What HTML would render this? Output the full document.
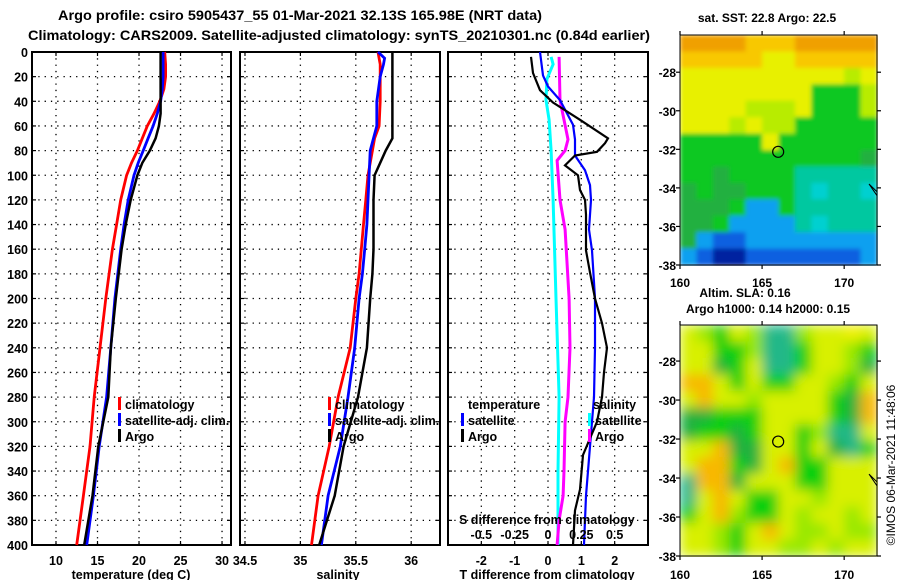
<!DOCTYPE html>
<html><head><meta charset="utf-8"><style>
html,body{margin:0;padding:0;background:#fff;}
svg{display:block;font-family:"Liberation Sans",sans-serif;font-weight:bold;}
</style></head><body>
<svg id="fig" width="900" height="580" viewBox="0 0 900 580" xmlns="http://www.w3.org/2000/svg">
<defs>
<filter id="blurS" x="0" y="0" width="1" height="1"><feGaussianBlur stdDeviation="2" edgeMode="duplicate"/></filter>
<filter id="blurL" x="0" y="0" width="1" height="1"><feGaussianBlur stdDeviation="6" edgeMode="duplicate"/></filter>
</defs>
<text x="300" y="20" font-size="14" text-anchor="middle" textLength="484" lengthAdjust="spacingAndGlyphs">Argo profile: csiro 5905437_55 01-Mar-2021 32.13S 165.98E (NRT data)</text>
<text x="339" y="40" font-size="14" text-anchor="middle" textLength="622" lengthAdjust="spacingAndGlyphs">Climatology: CARS2009. Satellite-adjusted climatology: synTS_20210301.nc (0.84d earlier)</text>
<g id="charts"></g>
<text x="767" y="22" font-size="12" text-anchor="middle">sat. SST: 22.8 Argo: 22.5</text>
<text x="745" y="297" font-size="12" text-anchor="middle">Altim. SLA: 0.16</text>
<text x="768" y="313" font-size="12" text-anchor="middle">Argo h1000: 0.14 h2000: 0.15</text>
<text transform="translate(895,465) rotate(-90)" font-size="12" font-weight="normal" text-anchor="middle">©IMOS 06-Mar-2021 11:48:06</text>
</svg>
<script>
// ---- data ----
const depthTicks=[0,20,40,60,80,100,120,140,160,180,200,220,240,260,280,300,320,340,360,380,400];
const tempTicks=[10,15,20,25,30];
const salTicks=[34.5,35,35.5,36];
const salTickLabels=["34.5","35","35.5","36"];
const tdiffTicks=[-2,-1,0,1,2];
const sdiffTicks=[-0.5,-0.25,0,0.25,0.5];
const sdiffTickLabels=["-0.5","-0.25","0","0.25","0.5"];

const tDepth=[0,10,20,30,40,50,60,70,80,90,100,120,140,160,200,240,280,320,360,400];
const tClim=[23.1,23.2,23.2,23.0,22.5,21.8,21.0,20.4,19.8,19.1,18.5,17.8,17.3,16.8,16.0,15.3,14.6,14.1,13.3,12.5];
const tSat=[22.9,22.9,22.9,22.8,22.6,22.2,21.7,21.1,20.5,19.9,19.4,18.7,18.2,17.8,17.1,16.6,16.1,15.2,14.5,13.7];
const tArgo=[22.6,22.6,22.6,22.6,22.6,22.6,22.4,22.0,21.3,20.4,19.8,19.0,18.4,17.9,17.2,16.6,16.3,15.1,14.4,13.4];

const sDepth=[0,5,10,20,40,60,70,80,100,120,140,160,180,200,240,280,320,360,400];
const sClim=[35.70,35.71,35.72,35.72,35.72,35.71,35.67,35.65,35.61,35.59,35.57,35.55,35.53,35.50,35.45,35.34,35.26,35.16,35.10];
const sSat=[35.70,35.76,35.75,35.72,35.69,35.69,35.66,35.63,35.62,35.61,35.60,35.58,35.56,35.53,35.49,35.43,35.36,35.25,35.19];
const sArgo=[35.83,35.83,35.83,35.83,35.83,35.83,35.83,35.77,35.67,35.66,35.66,35.66,35.65,35.63,35.60,35.52,35.39,35.31,35.17];

const dtSatDepth=[0,19,28,39,59,71,84,96,108,120,144,161,200,240,280,300,360,400];
const dtSat=[-0.24,-0.15,0,0.36,0.75,0.81,0.81,1.11,1.26,1.29,1.23,1.32,1.41,1.41,1.38,1.32,1.14,1.08];
const dtArgoDepth=[4,17,31,41,55,70,74,81,84,92,100,112,120,132,161,179,200,220,240,260,280,300,327,355,372,400];
const dtArgo=[-0.51,-0.45,-0.24,0.15,0.96,1.80,1.71,1.47,0.81,0.51,0.90,0.96,1.11,1.14,1.14,1.26,1.41,1.62,1.77,1.68,1.62,1.47,1.05,0.96,0.81,0.75];
const dsSatDepth=[4,10,22,39,55,80,120,200,280,340,400];
const dsSat=[0.023,0.038,-0.008,-0.015,0.008,0.023,0.038,0.060,0.083,0.075,0.075];
const dsArgoDepth=[4,39,55,71,80,88,120,144,200,240,280,300,340,360,380,400];
const dsArgo=[0.083,0.090,0.120,0.150,0.128,0.068,0.090,0.128,0.158,0.165,0.150,0.128,0.120,0.113,0.083,0.068];

// map color grids (lon 160-172 columns, rows top->bottom)
const sstRows=["OOOOoooOOOOO","oooooYYooooo","YYYYYYYYYYyY","YYYYYYYYGGGy","YYYYyyyYGGGy","YYYyYyyGGGGG","GGGGGYGGGGGG","GGGGGGGGGGGg","GGgGGGGCCCCC","gGggGGGCcCCc","gggGBBGCCCCC","ggGBBBBCcCCC","gBbbBBBBBBBB","BbNNbbbbbbbB"];
const slaRows=["yLGyLTTLyyYy","yyGGLTTGyyLG","yyDGyTTGyyLD","OOyGyGGyyLGy","yOyyLyyyyGDO","DDGGGyyyyGDO","DGGDGyyGLTTy","yyODDyyGyDTG","yOOGDyOGGyyy","TOODyyyGGyyy","TyOyGGyyLyyy","GyOLGGyLyyLy","yyLGyOyLLyLL","yyLGyyLLyLyy"];
const latTicks=[-28,-30,-32,-34,-36,-38];
const lonTicks=[160,165,170];
const argoLon=165.98, argoLat=-32.13;

// ---- drawing ----
const NS="http://www.w3.org/2000/svg";
const root=document.getElementById('charts');
function mk(tag,attrs,parent){const e=document.createElementNS(NS,tag);for(const k in attrs)e.setAttribute(k,attrs[k]);(parent||root).appendChild(e);return e;}
const Y0=52,Y1=545;
const yD=d=>Y0+(d/400)*(Y1-Y0);

function panel(name,x0,x1,vmin,vmax){
  const g=mk('g',{});
  
  
  const sx=v=>x0+(v-vmin)/(vmax-vmin)*(x1-x0);
  return {g,sx,x0,x1};
}
function frame(p,xt,labels,showY){
  depthTicks.forEach(d=>{const y=yD(d);
    if(d>0&&d<400){const l=mk('line',{x1:p.x0,x2:p.x1,y1:y,y2:y,stroke:'#000','stroke-width':1.3,'stroke-dasharray':'1.3,5'},p.g);}
    mk('line',{x1:p.x0,x2:p.x0+4,y1:y,y2:y,stroke:'#000','stroke-width':1.2},p.g);
    mk('line',{x1:p.x1-4,x2:p.x1,y1:y,y2:y,stroke:'#000','stroke-width':1.2},p.g);
    if(showY){const t=mk('text',{x:p.x0-4,y:y+5,'font-size':12.5,'text-anchor':'end'},p.g);t.textContent=d;}
  });
  xt.forEach((v,i)=>{const x=p.sx(v);
    const l=mk('line',{x1:x,x2:x,y1:Y0,y2:Y1,stroke:'#000','stroke-width':1.3,'stroke-dasharray':'1.3,5'},p.g);
    
    mk('line',{x1:x,x2:x,y1:Y0,y2:Y0+4,stroke:'#000','stroke-width':1.2},p.g);
    mk('line',{x1:x,x2:x,y1:Y1-4,y2:Y1,stroke:'#000','stroke-width':1.2},p.g);
    if(labels){const t=mk('text',{x:x,y:565,'font-size':12.5,'text-anchor':'middle'},p.g);t.textContent=labels[i];}
  });
  const r=mk('rect',{x:p.x0,y:Y0,width:p.x1-p.x0,height:Y1-Y0,fill:'none',stroke:'#000','stroke-width':2},p.g);
  
}
function series(p,vals,depths,color,w,name,sx){
  const f=sx||p.sx;
  const pts=vals.map((v,i)=>f(v).toFixed(1)+','+yD(depths[i]).toFixed(1)).join(' ');
  const l=mk('polyline',{points:pts,fill:'none',stroke:color,'stroke-width':w},p.g);
  
}
function legend(p,x,y,color,label){
  mk('rect',{x:x,y:y-7,width:3,height:13,fill:color},p.g);
  if(label){const t=mk('text',{x:x+7,y:y+5,'font-size':12.5},p.g);t.textContent=label;}
}
function txt(p,x,y,s,anchor,name){const t=mk('text',{x:x,y:y,'font-size':12.5,'text-anchor':anchor||'start'},p.g);t.textContent=s;}

// panel 1 temperature
const p1=panel('temperature-panel',32,231,7.11,31.08);
frame(p1,tempTicks,tempTicks.map(String),true);
series(p1,tClim,tDepth,'#ff0000',2.8,'climatology-temperature-line');
series(p1,tSat,tDepth,'#0000ff',2.8,'satellite-temperature-line');
series(p1,tArgo,tDepth,'#000000',2.5,'argo-temperature-line');
legend(p1,118,404,'#ff0000','climatology');
legend(p1,118,420,'#0000ff','satellite-adj. clim.');
legend(p1,118,436,'#000000','Argo');
txt(p1,131,579,'temperature (deg C)','middle','x-axis-title');

// panel 2 salinity
const p2=panel('salinity-panel',240,440,34.455,36.26);
frame(p2,salTicks,salTickLabels,false);
series(p2,sClim,sDepth,'#ff0000',2.8,'climatology-salinity-line');
series(p2,sSat,sDepth,'#0000ff',2.8,'satellite-salinity-line');
series(p2,sArgo,sDepth,'#000000',2.5,'argo-salinity-line');
legend(p2,328,404,'#ff0000','climatology');
legend(p2,328,420,'#0000ff','satellite-adj. clim.');
legend(p2,328,436,'#000000','Argo');
txt(p2,338,579,'salinity','middle','x-axis-title');

// panel 3 differences
const p3=panel('difference-panel',448,648,-3.0,3.0);
const sxS=v=>p3.sx(v*4);
frame(p3,tdiffTicks,tdiffTicks.map(String),false);
series(p3,dsSat,dsSatDepth,'#00ffff',3,'satellite-salinity-diff-line',sxS);
series(p3,dsArgo,dsArgoDepth,'#ff00ff',3,'argo-salinity-diff-line',sxS);
series(p3,dtSat,dtSatDepth,'#0000ff',2.2,'satellite-temperature-diff-line');
series(p3,dtArgo,dtArgoDepth,'#000000',2.2,'argo-temperature-diff-line');
txt(p3,468,409,'temperature','start','legend-title-temperature');
txt(p3,593,409,'salinity','start','legend-title-salinity');
legend(p3,461,420,'#0000ff','satellite');
legend(p3,461,436,'#000000','Argo');
legend(p3,588,420,'#00ffff','satellite');
legend(p3,588,436,'#ff00ff','Argo');
txt(p3,459,524,'S difference from climatology','start','s-diff-axis-title');
sdiffTicks.forEach((v,i)=>txt(p3,sxS(v),539,sdiffTickLabels[i],'middle','s-diff-tick-label'));
txt(p3,547,579,'T difference from climatology','middle','x-axis-title');

// maps
const sstPal={O:'#f0a000',o:'#f8c800',Y:'#e8f000',y:'#b8ec00',G:'#10c820',g:'#20b040',C:'#00c8a0',c:'#00d0d0',B:'#10a0f0',b:'#1060e0',N:'#0020a0'};
const slaPal={y:'#d8f000',Y:'#f0f000',L:'#98e800',G:'#10d010',D:'#20b040',T:'#20b888',O:'#f8b800'};
function map(name,rows,pal,top,bottom,latTop,label,filt){
  const g=mk('g',{});
  
  
  const X0=680,X1=877;
  const lx=v=>X0+(v-160)/12*(X1-X0);
  const ly=v=>top+(latTop-v)/(latTop+38)*(bottom-top);
  const nr=rows.length,nc=rows[0].length,cw=(X1-X0)/nc,ch=(bottom-top)/nr;
  const cells=mk('g',{filter:'url(#'+filt+')'},g);
  rows.forEach((r,i)=>{for(let j=0;j<nc;j++){mk('rect',{x:X0+j*cw,y:top+i*ch,width:cw+0.6,height:ch+0.6,fill:pal[r[j]]},cells);}});
  latTicks.forEach(v=>{const y=ly(v);
    mk('line',{x1:X0-4,x2:X0,y1:y,y2:y,stroke:'#000','stroke-width':1.2},g);
    mk('line',{x1:X1,x2:X1+4,y1:y,y2:y,stroke:'#000','stroke-width':1.2},g);
    const t=mk('text',{x:X0-4,y:y+5,'font-size':12,'text-anchor':'end'},g);t.textContent=v;
    });
  lonTicks.forEach(v=>{const x=lx(v);
    mk('line',{x1:x,x2:x,y1:top-4,y2:top,stroke:'#000','stroke-width':1.2},g);
    mk('line',{x1:x,x2:x,y1:bottom,y2:bottom+4,stroke:'#000','stroke-width':1.2},g);
    const t=mk('text',{x:x,y:label,'font-size':12,'text-anchor':'middle'},g);t.textContent=v;
    });
  const c=mk('circle',{cx:lx(argoLon),cy:ly(argoLat),r:5.5,fill:'none',stroke:'#000','stroke-width':1.2},g);
  
  mk('path',{d:`M${X1-8} ${ly(-33.8)} L${X1} ${ly(-34.4)} L${X1} ${ly(-34.2)} Z`,fill:'none',stroke:'#000','stroke-width':1},g);
  mk('rect',{x:X0,y:top,width:X1-X0,height:bottom-top,fill:'none',stroke:'#000','stroke-width':1},g);
}
map('sst-map',sstRows,sstPal,35,265,-26.07,287,'blurS');
map('sla-map',slaRows,slaPal,325,556,-26.15,579,'blurL');
</script>
</body></html>
